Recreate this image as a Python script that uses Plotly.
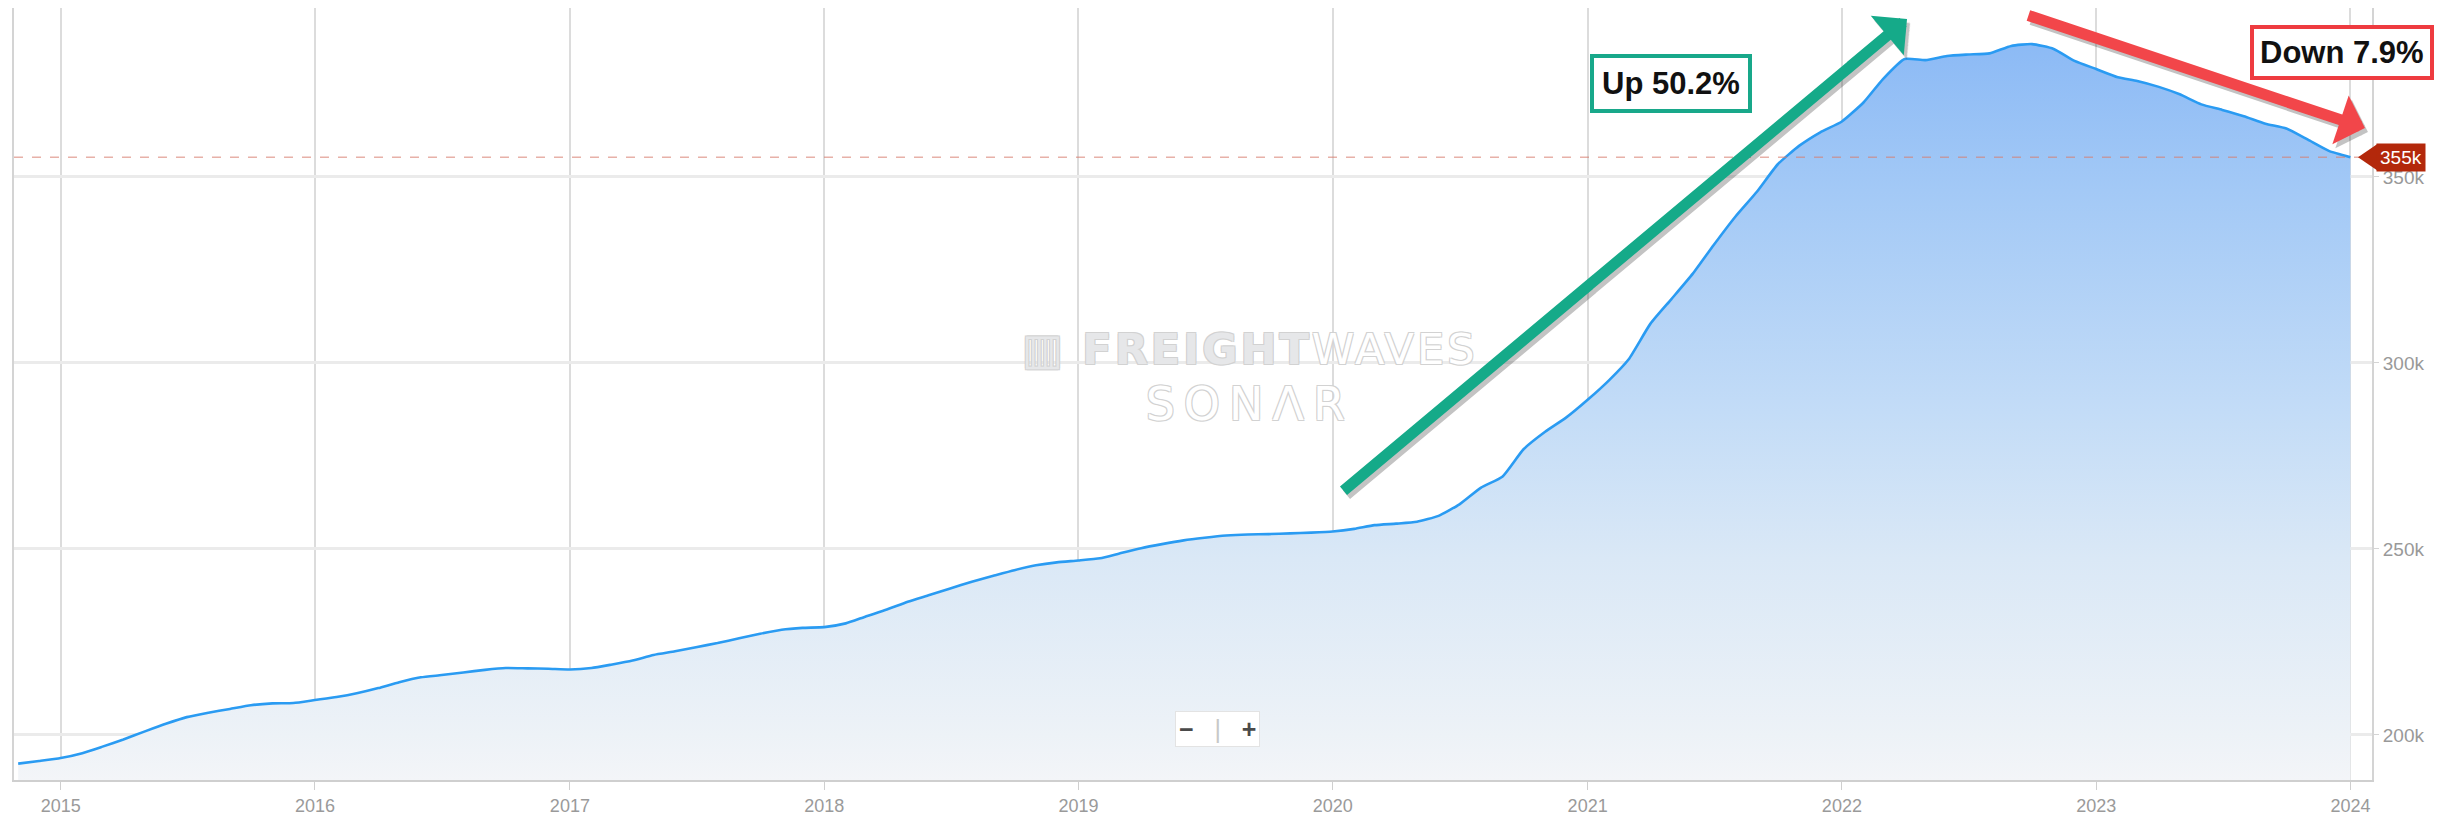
import pandas as pd
import plotly.graph_objects as go

# ---------------- data (thousands) ----------------
first_month = "2014-11-01"
v2014 = [192.3, 193.0]
v2015 = [193.8, 195.1, 196.8, 198.8, 200.9, 203.0, 204.8, 206.0, 207.0, 208.0, 208.5, 208.6]
v2016 = [209.4, 210.2, 211.2, 212.6, 214.2, 215.5, 216.1, 216.8, 217.5, 218.0, 217.9, 217.8]
v2017 = [217.6, 218.0, 218.9, 220.0, 221.5, 222.5, 223.6, 224.7, 226.0, 227.2, 228.3, 228.8]
v2018 = [229.0, 230.0, 231.8, 233.7, 235.8, 237.6, 239.4, 241.2, 242.8, 244.3, 245.6, 246.4]
v2019 = [246.9, 247.5, 248.8, 250.2, 251.3, 252.3, 253.0, 253.6, 253.9, 254.0, 254.2, 254.4]
v2020 = [254.7, 255.4, 256.4, 256.8, 257.3, 258.9, 262.0, 266.5, 269.5, 276.8, 281.5, 285.3]
v2021 = [290.1, 295.4, 301.0, 310.5, 317.1, 324.0, 331.7, 339.3, 346.0, 353.4, 358.4, 362.0]
v2022 = [364.9, 370.0, 376.3, 381.7, 381.4, 382.5, 382.9, 383.2, 385.2, 385.7, 384.4, 381.2]
v2023 = [379.0, 376.8, 375.8, 374.2, 372.2, 369.5, 368.0, 366.3, 364.3, 363.0, 360.0, 357.0]
v2024 = [355.3]

values = v2014 + v2015 + v2016 + v2017 + v2018 + v2019 + v2020 + v2021 + v2022 + v2023 + v2024
dates = pd.date_range(first_month, periods=len(values), freq="MS")

y_ticks = [200, 250, 300, 350]
y_tick_labels = [f"{v}k" for v in y_ticks]
up_text = "Up 50.2%"
down_text = "Down 7.9%"
last_val = values[-1]

# ---------------- styling ----------------
FONT = "Liberation Sans, Arial, sans-serif"
y_lo, y_hi = 187.9, 395.4
x_lo, x_hi = "2014-10-26", "2024-02-01"

fig = go.Figure()
fig.add_trace(go.Scatter(
    x=dates, y=values, mode="lines",
    line=dict(color="#2a9bf2", width=2.6, shape="spline", smoothing=0.5),
    fill="tozeroy",
    fillgradient=dict(
        type="vertical",
        start=y_lo, stop=max(values),
        colorscale=[
            [0.0, "rgb(243,245,248)"],
            [0.06, "rgb(237,242,247)"],
            [0.3, "rgb(218,232,246)"],
            [0.5, "rgb(195,220,247)"],
            [0.8, "rgb(163,201,246)"],
            [1.0, "rgb(140,186,245)"],
        ],
    ),
    hoverinfo="skip",
    showlegend=False,
))

# reference line at latest value
fig.add_shape(type="line", xref="paper", x0=0, x1=1, yref="y", y0=last_val, y1=last_val,
              line=dict(color="rgba(215,125,110,0.6)", width=1.6, dash="dash"))

# price tag pointer
TAG = "#b3280b"
fig.add_shape(type="path", xref="paper", xsizemode="pixel", xanchor=1,
              yref="y", ysizemode="pixel", yanchor=last_val,
              path="M -14,0 L 5,-13 L 5,13 Z",
              fillcolor=TAG, line=dict(width=0))

ann = []
# tag label
ann.append(dict(xref="paper", yref="y", x=1, y=last_val, xanchor="left", yanchor="middle",
                xshift=4, text=f"{round(last_val)}k", showarrow=False,
                font=dict(family=FONT, size=19, color="white"),
                bgcolor=TAG, borderpad=3))

# watermark (one text block, two lines)
outline = ("1px 1px 0 #d2d2d2, -1px -1px 0 #d2d2d2, 1px -1px 0 #d2d2d2, -1px 1px 0 #d2d2d2")
ann.append(dict(xref="paper", yref="paper", x=0.524, y=0.522, xanchor="center", yanchor="middle",
                showarrow=False,
                text=("<span style='letter-spacing:3px'><span style='color:#e6e7e9'>\u25a5 <b>FREIGHT</b></span>WAVES</span>"
                      "<br><span style='font-size:46px;letter-spacing:9px'>SON\u039bR</span>"),
                font=dict(family="DejaVu Sans", size=43, color="white", shadow=outline)))

# arrows (shadow first, then coloured)
def arrow(x, y, ax, ay, color, shift=(0, 0)):
    return dict(xref="paper", yref="paper", x=x, y=y, ax=ax, ay=ay, axref="pixel", ayref="pixel",
                text="", showarrow=True, arrowhead=1, arrowsize=0.78, arrowwidth=11,
                arrowcolor=color, standoff=0, startstandoff=0,
                xshift=shift[0], yshift=shift[1])

ann.append(arrow(0.8028, 0.9858, -565, 473, "rgba(40,40,40,0.28)", (3, -4)))
ann.append(arrow(0.8028, 0.9858, -565, 473, "#15aa89"))
ann.append(arrow(0.9970, 0.8446, -338, -113, "rgba(40,40,40,0.28)", (3, -4)))
ann.append(arrow(0.9970, 0.8446, -338, -113, "#f2464a"))

# text boxes
ann.append(dict(xref="paper", yref="paper", x=0.7027, y=0.9016, xanchor="center", yanchor="middle",
                showarrow=False,
                text=f"<b>{up_text}</b>", font=dict(family=FONT, size=31, color="#111"),
                bgcolor="white", bordercolor="#18a88a", borderwidth=4, borderpad=8))
ann.append(dict(xref="paper", yref="paper", x=0.9871, y=0.9430, xanchor="center", yanchor="middle",
                showarrow=False,
                text=f"<b>{down_text}</b>", font=dict(family=FONT, size=31, color="#111"),
                bgcolor="white", bordercolor="#ee3b40", borderwidth=4, borderpad=6))

# zoom buttons
ann.append(dict(xref="paper", yref="paper", x=0.5102, y=0.066, xanchor="center", yanchor="middle",
                showarrow=False,
                text="<b>\u2212</b>   <span style='color:#c8c8c8'>|</span>   <b>+</b>",
                font=dict(family=FONT, size=25, color="#4a4a4a"),
                bgcolor="white", bordercolor="#e3e3e3", borderwidth=1, borderpad=3))

fig.update_layout(
    width=2450, height=825,
    margin=dict(l=14, r=78, t=8, b=45),
    paper_bgcolor="white", plot_bgcolor="white",
    annotations=ann,
    xaxis=dict(
        type="date", range=[x_lo, x_hi],
        tick0="2015-01-01", dtick="M12", tickformat="%Y",
        showgrid=True, gridcolor="#dcdcdc", gridwidth=1.5,
        showline=True, linecolor="#cfcfcf", linewidth=2,
        ticks="outside", ticklen=8, tickcolor="#cfcfcf",
        tickfont=dict(family=FONT, size=18, color="#9a9a9a"),
        zeroline=False, fixedrange=True,
    ),
    yaxis=dict(
        side="right", range=[y_lo, y_hi], tickmode="array",
        tickvals=y_ticks, ticktext=y_tick_labels,
        showgrid=True, gridcolor="#ebebeb", gridwidth=2.5,
        showline=True, linecolor="#d4d4d4", linewidth=2, mirror=True,
        ticks="outside", ticklen=5, tickcolor="#d4d4d4",
        tickfont=dict(family=FONT, size=19, color="#999999"),
        zeroline=False, fixedrange=True,
    ),
)

fig.write_html("out.html")
